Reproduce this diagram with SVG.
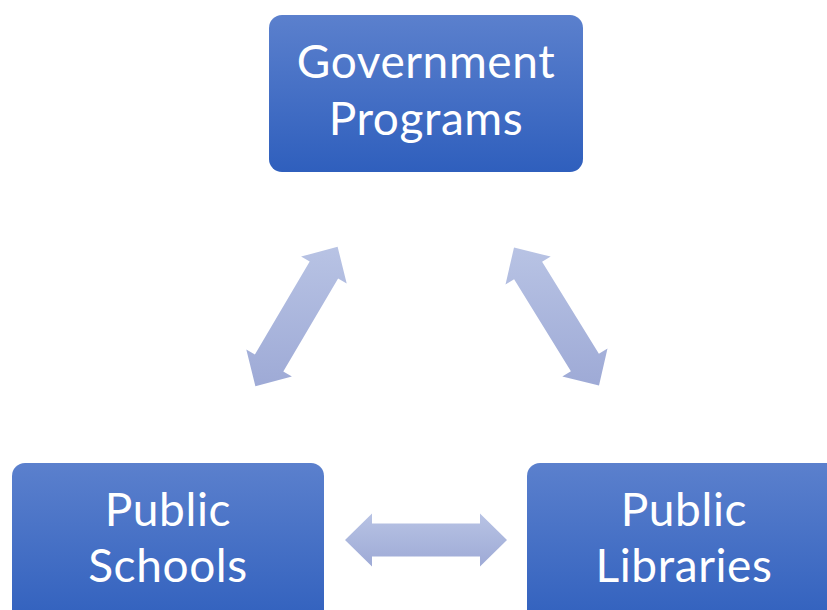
<svg xmlns="http://www.w3.org/2000/svg" width="827" height="610" viewBox="0 0 827 610">
  <defs>
    <linearGradient id="boxFill" x1="0" y1="0" x2="0" y2="1">
      <stop offset="0" stop-color="#5b80cd"/>
      <stop offset="1" stop-color="#2f5fbd"/>
    </linearGradient>
    <linearGradient id="arrowFill" x1="0" y1="0" x2="0" y2="1">
      <stop offset="0" stop-color="#b8c3e4"/>
      <stop offset="1" stop-color="#9eaad6"/>
    </linearGradient>
    <style>
      .box { fill: url(#boxFill); }
      .label { fill: #ffffff; font-family: Lato, "Open Sans", "Liberation Sans", sans-serif; font-size: 46px; letter-spacing: 0.6px; text-anchor: middle; }
      .arrow { fill: url(#arrowFill); }
    </style>
  </defs>
  <rect width="827" height="610" fill="#ffffff"/>

  <g id="government-programs">
    <rect class="box" x="269" y="15" width="314" height="157" rx="13"/>
    <text class="label" x="426" y="78">Government</text>
    <text class="label" x="426" y="135">Programs</text>
  </g>

  <g id="public-schools">
    <rect class="box" x="12" y="463" width="312" height="170" rx="13"/>
    <text class="label" x="168" y="526">Public</text>
    <text class="label" x="168" y="582">Schools</text>
  </g>

  <g id="public-libraries">
    <rect class="box" x="527" y="463" width="320" height="170" rx="13"/>
    <text class="label" x="684" y="526">Public</text>
    <text class="label" x="684" y="582">Libraries</text>
  </g>

  <g id="connectors">
    <polygon class="arrow" points="337.6,246.7 346.7,283.4 338.1,278.4 283.3,371.4 291.9,376.4 255.4,386.3 246.3,349.6 254.9,354.6 309.7,261.6 301.1,256.6"/>
    <polygon class="arrow" points="514.0,247.6 505.5,284.4 514.1,279.2 570.9,371.2 562.3,376.4 599.0,385.4 607.5,348.6 598.9,353.8 542.1,261.8 550.7,256.6"/>
    <polygon class="arrow" points="345,540 372,513.5 372,523.5 480,523.5 480,513.5 507,540 480,566.5 480,556.5 372,556.5 372,566.5"/>
  </g>
</svg>
